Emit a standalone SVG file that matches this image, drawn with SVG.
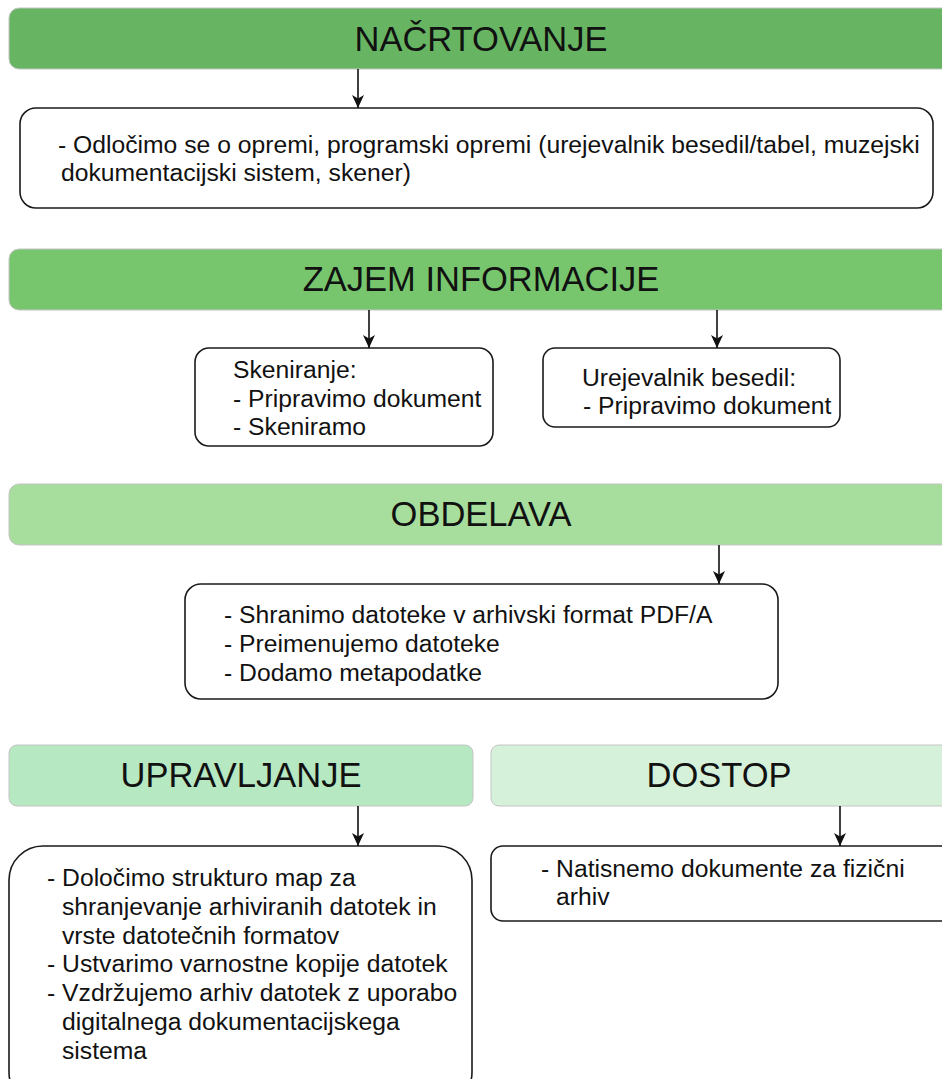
<svg xmlns="http://www.w3.org/2000/svg" width="942" height="1079" viewBox="0 0 942 1079">
<style>
.hdr{stroke:#c4c4c4;stroke-width:1}
.hdr-t{font-family:"Liberation Sans",Arial,sans-serif;font-size:34.5px;fill:#111;text-anchor:middle}
.box{fill:#fff;stroke:#1a1a1a;stroke-width:1.6}
.t{font-family:"Liberation Sans",Arial,sans-serif;font-size:24.7px;fill:#111}
.conn{stroke:#111;stroke-width:1.6;fill:none;marker-end:url(#arr)}
</style>
<defs>
<marker id="arr" markerUnits="userSpaceOnUse" markerWidth="14" markerHeight="14" viewBox="0 0 14 14" refX="13" refY="7" orient="auto">
<path d="M0,1 L13,7 L0,13 L3.5,7 z" fill="#111"/>
</marker>
</defs>
<rect width="942" height="1079" fill="#fff"/>

<g id="n-nacrtovanje">
<rect class="hdr" x="9" y="8" width="960" height="61" rx="10" fill="#67b562"/>
<text class="hdr-t" x="481" y="51">NAČRTOVANJE</text>
</g>
<g id="n-oprema">
<rect class="box" x="20" y="108" width="913" height="100" rx="16"/>
<text class="t" x="58" y="153">- Odločimo se o opremi, programski opremi (urejevalnik besedil/tabel, muzejski</text>
<text class="t" x="61" y="181">dokumentacijski sistem, skener)</text>
</g>

<g id="n-zajem">
<rect class="hdr" x="9" y="249" width="960" height="61" rx="10" fill="#77c66e"/>
<text class="hdr-t" x="481" y="291">ZAJEM INFORMACIJE</text>
</g>
<g id="n-skeniranje">
<rect class="box" x="195" y="348" width="298" height="98" rx="14"/>
<text class="t" x="233" y="378">Skeniranje:</text>
<text class="t" x="233" y="406.5">- Pripravimo dokument</text>
<text class="t" x="233" y="435">- Skeniramo</text>
</g>
<g id="n-urejevalnik">
<rect class="box" x="543" y="348" width="297" height="79" rx="12"/>
<text class="t" x="582" y="386">Urejevalnik besedil:</text>
<text class="t" x="583" y="414">- Pripravimo dokument</text>
</g>

<g id="n-obdelava">
<rect class="hdr" x="9" y="484" width="960" height="61" rx="10" fill="#a7dd9d"/>
<text class="hdr-t" x="481" y="526">OBDELAVA</text>
</g>
<g id="n-obdelava-box">
<rect class="box" x="185" y="584" width="593" height="115" rx="16"/>
<text class="t" x="224" y="623">- Shranimo datoteke v arhivski format PDF/A</text>
<text class="t" x="224" y="652">- Preimenujemo datoteke</text>
<text class="t" x="224" y="681">- Dodamo metapodatke</text>
</g>

<g id="n-upravljanje">
<rect class="hdr" x="9" y="745" width="464" height="61" rx="8" fill="#b6e8c2"/>
<text class="hdr-t" x="241" y="787">UPRAVLJANJE</text>
</g>
<g id="n-dostop">
<rect class="hdr" x="491" y="745" width="470" height="61" rx="8" fill="#d6f1d9"/>
<text class="hdr-t" x="719" y="787">DOSTOP</text>
</g>
<g id="n-upravljanje-box">
<rect class="box" x="9" y="846" width="463" height="260" rx="34"/>
<text class="t" x="47" y="886">- Določimo strukturo map za</text>
<text class="t" x="62" y="914.8">shranjevanje arhiviranih datotek in</text>
<text class="t" x="62" y="943.6">vrste datotečnih formatov</text>
<text class="t" x="47" y="972.4">- Ustvarimo varnostne kopije datotek</text>
<text class="t" x="47" y="1001.2">- Vzdržujemo arhiv datotek z uporabo</text>
<text class="t" x="62" y="1030">digitalnega dokumentacijskega</text>
<text class="t" x="62" y="1058.8">sistema</text>
</g>
<g id="n-dostop-box">
<rect class="box" x="491" y="846" width="470" height="75" rx="12"/>
<text class="t" x="541" y="877">- Natisnemo dokumente za fizični</text>
<text class="t" x="556" y="905">arhiv</text>
</g>

<g id="connectors">
<line class="conn" x1="358" y1="69" x2="358" y2="108"/>
<line class="conn" x1="369" y1="310" x2="369" y2="348"/>
<line class="conn" x1="717" y1="310" x2="717" y2="348"/>
<line class="conn" x1="719" y1="545" x2="719" y2="584"/>
<line class="conn" x1="358" y1="806" x2="358" y2="846"/>
<line class="conn" x1="840" y1="806" x2="840" y2="846"/>
</g>
</svg>
